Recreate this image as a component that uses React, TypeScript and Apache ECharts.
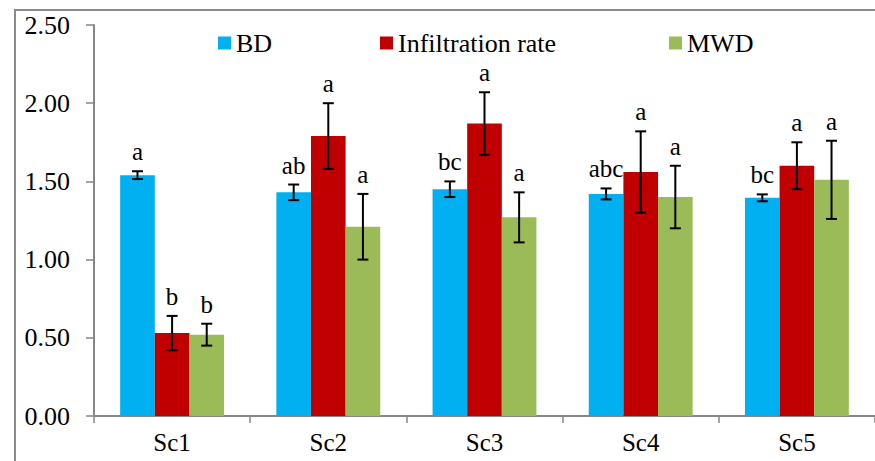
import React, { useEffect, useRef } from "react";
import * as echarts from "echarts";

const categories = ["Sc1", "Sc2", "Sc3", "Sc4", "Sc5"];
const seriesNames = ["BD", "Infiltration rate", "MWD"];
const bdValues = [1.54, 1.43, 1.45, 1.42, 1.395];
const bdErrors = [0.025, 0.05, 0.05, 0.035, 0.022];
const bdLetters = ["a", "ab", "bc", "abc", "bc"];
const infValues = [0.53, 1.79, 1.87, 1.56, 1.6];
const infErrors = [0.11, 0.21, 0.2, 0.26, 0.15];
const infLetters = ["b", "a", "a", "a", "a"];
const mwdValues = [0.52, 1.21, 1.27, 1.4, 1.51];
const mwdErrors = [0.07, 0.21, 0.16, 0.2, 0.25];
const mwdLetters = ["b", "a", "a", "a", "a"];
const yTicks = [0, 0.5, 1, 1.5, 2, 2.5];

const colors = ["#00B0F0", "#C00000", "#9BBB59"];
const FONT = "Liberation Serif";
const GAP = 0.335;
const legendLefts = [213, 375, 664];

export default function App() {
  const ref = useRef<HTMLDivElement>(null);
  useEffect(() => {
    if (!ref.current) return;
    const chart = echarts.init(ref.current, null, { renderer: "svg" });
    const values = [bdValues, infValues, mwdValues];
    const errors = [bdErrors, infErrors, mwdErrors];
    const letters = [bdLetters, infLetters, mwdLetters];

    const errSeries = values.map((vals, si) => ({
      type: "custom",
      name: seriesNames[si] + " err",
      z: 5,
      data: vals.map((v, i) => [i, v, errors[si][i]]),
      renderItem: (params: any, api: any) => {
        const cat = api.value(0);
        const val = api.value(1);
        const err = api.value(2);
        const band = api.size([1, 0])[0];
        const bw = (band * (1 - GAP)) / 3;
        const x = api.coord([cat, val])[0] + (si - 1) * bw;
        const top = api.coord([cat, val + err])[1];
        const bot = api.coord([cat, val - err])[1];
        const cap = 5.5;
        const ls = { stroke: "#000", lineWidth: 2 };
        return {
          type: "group",
          children: [
            { type: "line", shape: { x1: x, y1: top, x2: x, y2: bot }, style: ls },
            { type: "line", shape: { x1: x - cap, y1: top, x2: x + cap, y2: top }, style: ls },
            { type: "line", shape: { x1: x - cap, y1: bot, x2: x + cap, y2: bot }, style: ls },
            {
              type: "text",
              style: {
                text: letters[si][params.dataIndex],
                x: x,
                y: top - 7,
                align: "center",
                verticalAlign: "bottom",
                fontSize: 25,
                fontFamily: FONT,
                fill: "#000",
              },
            },
          ],
        };
      },
    }));

    chart.setOption({
      animation: false,
      backgroundColor: "#fff",
      textStyle: { fontFamily: FONT },
      graphic: [
        {
          type: "rect",
          shape: { x: 15, y: 10, width: 950, height: 520 },
          style: { fill: "none", stroke: "#8a8a8a", lineWidth: 2 },
          z: -1,
        },
      ],
      legend: seriesNames.map((name, i) => ({
        data: [name],
        left: legendLefts[i],
        top: 25,
        itemWidth: 13,
        itemHeight: 13,
        icon: "rect",
        textStyle: { fontSize: 26, fontFamily: FONT, color: "#000" },
      })),
      grid: { left: 94, top: 25, width: 791.5, bottom: 45, containLabel: false },
      xAxis: {
        type: "category",
        data: categories,
        axisLine: { lineStyle: { color: "#868686", width: 2 } },
        axisTick: { show: true, length: 7, lineStyle: { color: "#868686", width: 1.5 } },
        axisLabel: { fontSize: 25, fontFamily: FONT, color: "#000", margin: 14 },
      },
      yAxis: {
        type: "value",
        min: 0,
        max: 2.5,
        interval: 0.5,
        splitLine: { show: false },
        axisLine: { show: true, lineStyle: { color: "#868686", width: 2 } },
        axisTick: { show: true, length: 8, lineStyle: { color: "#868686", width: 1.5 } },
        axisLabel: {
          fontSize: 26,
          fontFamily: FONT,
          color: "#000",
          margin: 24,
          formatter: (v: number) => (yTicks.includes(v) ? v.toFixed(2) : ""),
        },
      },
      series: [
        ...values.map((vals, si) => ({
          type: "bar",
          name: seriesNames[si],
          data: vals,
          itemStyle: { color: colors[si] },
          barGap: "0%",
          barCategoryGap: (GAP * 100).toFixed(1) + "%",
        })),
        ...errSeries,
      ],
    });
    return () => chart.dispose();
  }, []);
  return (
    <div
      ref={ref}
      style={{ position: "fixed", left: 0, top: 0, width: 875, height: 461 }}
    />
  );
}
